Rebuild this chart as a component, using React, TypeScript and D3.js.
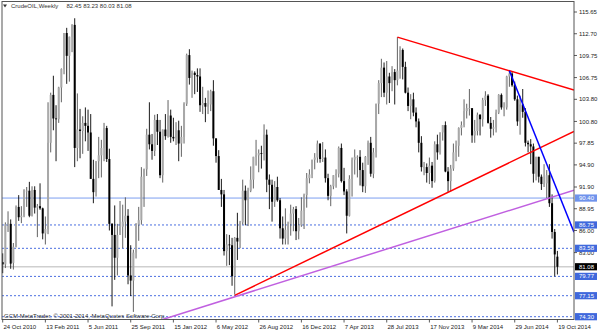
import React from "react";
import * as d3 from "d3";

type Bar = [number, number, number, number]; // open, high, low, close

// Weekly bars (week starting Sunday), CrudeOIL, from 24 Oct 2010
const ohlc2010: Bar[] = [
  [81.7, 82.9, 80.2, 81.4], [81.4, 87.1, 80.9, 86.85], [86.8, 88.6, 85.8, 87.0], [86.9, 87.5, 80.8, 81.5],
  [81.6, 84.3, 80.7, 83.8], [83.8, 89.4, 83.7, 89.2], [89.2, 90.8, 87.3, 87.8], [87.8, 89.3, 87.0, 88.0],
  [88.0, 91.6, 87.8, 91.5], [91.4, 91.9, 89.2, 91.4],
];
const ohlc2011: Bar[] = [
  [91.4, 92.6, 87.8, 88.0], [88.0, 92.0, 87.9, 91.5], [91.5, 92.0, 88.3, 89.1], [89.1, 89.6, 85.1, 89.3],
  [89.3, 92.4, 88.8, 89.0], [89.0, 89.1, 84.8, 85.6], [85.6, 87.9, 84.1, 86.2], [86.2, 103.4, 85.5, 97.9],
  [97.9, 104.7, 96.6, 104.4], [104.4, 107.0, 99.6, 101.2], [101.2, 103.0, 95.4, 101.1], [101.1, 105.5, 100.6, 105.4],
  [105.4, 108.0, 103.4, 107.9], [107.9, 112.8, 107.2, 112.8], [112.8, 113.5, 105.9, 109.7], [109.7, 112.3, 106.2, 112.3],
  [112.3, 114.0, 110.2, 113.9], [113.9, 114.8, 94.6, 97.2], [97.2, 104.6, 95.4, 99.7], [99.7, 102.5, 95.8, 99.5],
  [99.5, 101.5, 96.4, 100.6], [100.6, 102.7, 98.1, 100.2], [100.2, 102.4, 96.8, 99.3], [99.3, 101.8, 93.0, 93.0],
  [93.0, 95.6, 89.7, 91.2], [91.2, 95.4, 90.6, 95.4], [95.4, 98.7, 93.1, 96.2], [96.2, 98.3, 93.2, 97.2],
  [97.2, 100.6, 95.4, 99.9], [99.9, 100.2, 95.3, 95.7], [95.7, 97.1, 86.0, 86.9], [86.9, 87.0, 75.7, 85.4],
  [85.4, 89.4, 79.3, 82.3], [82.3, 86.9, 79.9, 85.4], [85.4, 90.0, 85.4, 86.5], [86.5, 89.5, 83.6, 87.2],
  [87.2, 90.5, 85.0, 88.0], [88.0, 88.9, 78.7, 79.9], [79.9, 84.0, 77.1, 79.2], [79.2, 83.4, 74.95, 83.0],
  [83.0, 87.0, 82.2, 86.8], [86.8, 89.2, 84.6, 87.4], [87.4, 94.6, 86.8, 93.3], [93.3, 94.4, 89.2, 94.3],
  [94.3, 99.8, 93.4, 99.0], [99.0, 103.4, 97.0, 97.7], [97.7, 99.1, 95.6, 96.8], [96.8, 101.7, 96.1, 101.0],
  [101.0, 101.8, 97.6, 99.4], [99.4, 101.0, 93.1, 93.5], [93.5, 99.7, 92.5, 99.7], [99.7, 101.8, 98.3, 98.8],
];
const ohlc2012: Bar[] = [
  [98.8, 103.7, 98.6, 101.6], [101.6, 102.4, 97.9, 98.7], [98.7, 101.3, 98.1, 98.5], [98.5, 100.7, 97.6, 99.6],
  [99.6, 100.9, 95.4, 97.8], [97.8, 100.2, 96.0, 98.7], [98.7, 103.4, 97.8, 103.2], [103.2, 110.0, 102.9, 109.8],
  [109.8, 110.6, 105.8, 106.7], [106.7, 107.7, 104.0, 107.4], [107.4, 107.6, 104.5, 107.1], [107.1, 108.0, 104.8, 106.9],
  [106.9, 108.0, 102.1, 103.0], [103.0, 105.5, 101.8, 103.3], [103.3, 104.0, 100.7, 102.8], [102.8, 105.0, 101.8, 103.1],
  [103.1, 105.1, 102.2, 104.9], [104.9, 106.4, 97.5, 98.5], [98.5, 98.5, 95.2, 96.1], [96.1, 96.9, 91.5, 91.5],
  [91.5, 93.0, 89.2, 90.9], [90.9, 91.5, 82.6, 83.2], [83.2, 85.5, 81.2, 84.1], [84.1, 85.4, 81.3, 84.0],
  [84.0, 85.0, 78.5, 79.8], [79.8, 85.1, 77.3, 85.0], [85.0, 88.4, 82.0, 84.5], [84.5, 87.3, 83.6, 87.1],
  [87.1, 92.9, 86.8, 91.4], [91.4, 92.1, 86.7, 90.1], [90.1, 91.8, 86.6, 91.4], [91.4, 94.7, 91.2, 92.9],
  [92.9, 96.0, 91.7, 96.0], [96.0, 98.3, 94.8, 96.2], [96.2, 97.0, 93.9, 96.5], [96.5, 97.5, 94.4, 96.4],
  [96.4, 100.4, 95.5, 99.0], [99.0, 99.7, 91.2, 92.9], [92.9, 93.6, 88.9, 92.2], [92.2, 92.9, 87.2, 89.9],
  [89.9, 92.7, 89.2, 91.9], [91.9, 93.3, 89.9, 90.1], [90.1, 90.4, 84.9, 86.3], [86.3, 87.9, 84.1, 84.9],
  [84.9, 89.0, 84.1, 86.1], [86.1, 87.2, 84.1, 86.9], [86.9, 89.5, 85.3, 88.3], [88.3, 89.2, 85.9, 88.9],
  [88.9, 89.3, 84.7, 85.9], [85.9, 87.7, 84.8, 86.7], [86.7, 90.5, 86.5, 88.7], [88.7, 91.0, 86.2, 90.8],
  [90.8, 93.8, 89.1, 93.1],
];
const ohlc2013: Bar[] = [
  [93.1, 94.3, 92.4, 93.6], [93.6, 95.6, 93.1, 95.6], [95.6, 96.5, 94.3, 95.9], [95.9, 98.2, 95.2, 97.8],
  [97.8, 97.8, 95.2, 95.7], [95.7, 98.0, 95.3, 95.9], [95.9, 97.0, 92.5, 93.1], [93.1, 93.7, 90.1, 90.7],
  [90.7, 92.2, 89.3, 92.0], [92.0, 93.5, 91.6, 93.5], [93.5, 94.3, 91.8, 93.7], [93.7, 97.4, 93.2, 97.2],
  [97.2, 97.8, 92.5, 92.7], [92.7, 94.5, 90.8, 91.3], [91.3, 91.6, 85.6, 88.0], [88.0, 93.5, 87.9, 93.0],
  [93.0, 95.9, 90.6, 95.6], [95.6, 97.0, 93.6, 96.0], [96.0, 96.2, 93.2, 96.0], [96.0, 96.9, 92.1, 94.2],
  [94.2, 95.2, 91.2, 92.0], [92.0, 96.1, 91.1, 96.0], [96.0, 98.2, 94.9, 97.9], [97.9, 98.7, 93.3, 93.7],
  [93.7, 97.2, 93.1, 96.6], [96.6, 103.2, 95.9, 103.2], [103.2, 106.4, 101.8, 106.0], [106.0, 109.3, 104.1, 108.1],
  [108.1, 108.8, 104.1, 104.7], [104.7, 109.0, 103.1, 106.9], [106.9, 107.4, 103.3, 106.0], [106.0, 108.3, 104.9, 107.5],
  [107.5, 107.9, 103.1, 106.4], [106.4, 112.24, 105.7, 107.7], [107.7, 111.0, 106.6, 110.5], [110.5, 110.7, 106.5, 108.2],
  [108.2, 108.9, 104.6, 104.7], [104.7, 105.4, 102.2, 102.9], [102.9, 104.5, 101.1, 103.8], [103.8, 104.7, 101.5, 102.0],
  [102.0, 102.7, 100.0, 100.8], [100.8, 101.2, 96.6, 97.9], [97.9, 98.8, 94.0, 94.6], [94.6, 95.3, 93.5, 94.6],
  [94.6, 95.1, 92.5, 93.8], [93.8, 95.9, 92.3, 94.8], [94.8, 95.3, 91.8, 92.7], [92.7, 98.1, 92.5, 97.7],
  [97.7, 99.0, 95.6, 96.6], [96.6, 99.3, 96.3, 99.3], [99.3, 100.3, 98.2, 100.3], [100.3, 100.8, 93.9, 94.0],
];
const ohlc2014: Bar[] = [
  [94.0, 94.6, 91.24, 92.7], [92.7, 94.9, 91.3, 94.4], [94.4, 97.8, 94.1, 96.6], [96.6, 98.2, 95.4, 97.5],
  [97.5, 100.0, 96.0, 99.9], [99.9, 100.8, 98.9, 100.3], [100.3, 103.8, 100.0, 102.2], [102.2, 103.2, 101.2, 102.6],
  [102.6, 105.2, 101.6, 102.6], [102.6, 102.6, 97.9, 98.9], [98.9, 101.0, 97.9, 99.5], [99.5, 102.0, 98.9, 101.7],
  [101.7, 101.8, 98.9, 101.1], [101.1, 104.0, 100.1, 103.7], [103.7, 104.9, 102.9, 104.3], [104.3, 104.5, 100.5, 100.6],
  [100.6, 101.4, 98.6, 99.8], [99.8, 101.0, 98.9, 100.0], [100.0, 102.4, 99.3, 102.0], [102.0, 104.5, 101.8, 104.4],
  [104.4, 104.6, 102.4, 102.7], [102.7, 103.4, 101.5, 102.7], [102.7, 107.0, 102.4, 106.9], [106.9, 107.7, 105.5, 107.3],
  [107.3, 107.5, 105.5, 105.7], [105.7, 106.2, 103.6, 103.8], [103.8, 104.3, 100.2, 100.8], [100.8, 104.3, 99.0, 103.1],
  [103.1, 105.2, 101.3, 102.1], [102.1, 102.6, 97.4, 97.9], [97.9, 98.2, 96.6, 97.7], [97.7, 98.4, 95.0, 97.4],
  [97.4, 97.8, 92.5, 93.7], [93.7, 96.0, 92.8, 96.0], [96.0, 96.0, 92.5, 93.3], [93.3, 93.6, 91.5, 92.3],
  [92.3, 95.0, 91.9, 92.4], [92.4, 94.2, 90.4, 93.5], [93.5, 95.0, 89.2, 89.7], [89.7, 90.9, 84.9, 85.8],
  [85.8, 86.2, 79.77, 82.75], [82.45, 83.23, 80.03, 81.08],
];

const dateTickBars = [0, 16, 32, 48, 64, 80, 96, 112, 128, 144, 160, 176, 192, 208];
const dateTickLabels = [
  "24 Oct 2010", "13 Feb 2011", "5 Jun 2011", "25 Sep 2011", "15 Jan 2012", "6 May 2012", "26 Aug 2012",
  "16 Dec 2012", "7 Apr 2013", "28 Jul 2013", "17 Nov 2013", "9 Mar 2014", "29 Jun 2014", "19 Oct 2014",
];
const priceTickLabels = ["115.65", "112.70", "109.75", "106.75", "103.80", "100.80", "97.85", "94.90", "91.90", "88.95", "86.00", "83.00"];

const supportLevel = 90.4;
const dashedLevels = [86.75, 83.58, 79.77, 77.15, 74.3];
const bidPrice = 81.08;

// trend lines: [bar index, price] anchor pairs
const redDownLine: [number, number][] = [[148, 112.24], [190, 107.68]];
const redUpLine: [number, number][] = [[87, 77.2], [200, 96.96]];
const purpleLine: [number, number][] = [[87, 77.0], [200, 89.85]];
const blueLine: [number, number][] = [[190, 107.68], [208, 91.4]];

const titleText = "CrudeOIL,Weekly";
const titleValues = "82.45 83.23 80.03 81.08";
const watermark = "GCM MetaTrader, \u00a9 2001-2014, MetaQuotes Software Corp.";

const W = 600, H = 333;
const PL = 2, PR = 574, PT = 1.5, PB = 319.5;
const FONT = "'Liberation Sans', Arial, sans-serif";

export default function App() {
  const bars: Bar[] = [...ohlc2010, ...ohlc2011, ...ohlc2012, ...ohlc2013, ...ohlc2014];
  const x = d3.scaleLinear().domain([0, 208]).range([2.7, 557.4]);
  const y = d3.scaleLinear().domain([74.3, 115.65]).range([316.7, 12]);

  const ray = (pts: [number, number][], both: boolean) => {
    const x1 = x(pts[0][0]), y1 = y(pts[0][1]);
    const x2 = x(pts[1][0]), y2 = y(pts[1][1]);
    const k = (y2 - y1) / (x2 - x1);
    const xs = both ? PL : x1;
    const xe = PR;
    return { x1: xs, y1: y1 + (xs - x1) * k, x2: xe, y2: y1 + (xe - x1) * k };
  };

  const lines = [
    { l: ray(redDownLine, false), c: "#ff0000" },
    { l: ray(redUpLine, false), c: "#ff0000" },
    { l: ray(purpleLine, true), c: "#c060e0" },
    { l: ray(blueLine, false), c: "#0000ff" },
  ];

  const fs = 6;

  return (
    <svg width={W} height={H} style={{ position: "absolute", left: 0, top: 0, background: "#fff" }} fontFamily={FONT}>
      <defs>
        <clipPath id="plot">
          <rect x={PL} y={PT} width={PR - PL} height={PB - PT} />
        </clipPath>
      </defs>
      <rect x={0} y={0} width={W} height={H} fill="#fff" />

      <g clipPath="url(#plot)">
        <line x1={PL} x2={PR} y1={y(bidPrice)} y2={y(bidPrice)} stroke="#cfcfcf" strokeWidth={1.3} />
        {dashedLevels.map((v, i) => (
          <line key={i} x1={PL} x2={PR} y1={y(v)} y2={y(v)} stroke="#4a6ee0" strokeWidth={1} strokeDasharray="2,2" />
        ))}
        <line x1={PL} x2={PR} y1={y(supportLevel)} y2={y(supportLevel)} stroke="#7c9ef0" strokeWidth={1} />

        {bars.map((b, i) => {
          const [o, h, l, c] = b;
          const bull = c >= o;
          const cx = x(i);
          const top = y(Math.max(o, c));
          const bot = y(Math.min(o, c));
          return (
            <g key={i}>
              <line x1={cx} x2={cx} y1={y(h)} y2={y(l)} stroke={bull ? "#505050" : "#000"} strokeWidth={0.9} />
              <rect x={cx - 1} y={top} width={2} height={Math.max(0.8, bot - top)} fill={bull ? "#a8a8a8" : "#000"} />
            </g>
          );
        })}

        {lines.map((t, i) => (
          <line key={i} x1={t.l.x1} y1={t.l.y1} x2={t.l.x2} y2={t.l.y2} stroke={t.c} strokeWidth={1.5} />
        ))}
      </g>

      <rect x={PL} y={PT} width={PR - PL} height={PB - PT} fill="none" stroke="#555" strokeWidth={1} />

      <path d="M3,4.5 L7,4.5 L5,7.5 Z" fill="#333" />
      <text x={11} y={8.2} fontSize={fs} fill="#333">{titleText}</text>
      <text x={66.5} y={8.2} fontSize={fs} fill="#333">{titleValues}</text>

      <text x={4} y={317.8} fontSize={fs} fill="#333">{watermark}</text>

      {priceTickLabels.map((t, i) => {
        const yy = y(+t);
        return (
          <g key={i}>
            <line x1={PR} x2={PR + 3} y1={yy} y2={yy} stroke="#333" strokeWidth={0.8} />
            <text x={579} y={yy + 2.1} fontSize={fs} fill="#222">{t}</text>
          </g>
        );
      })}

      {[supportLevel, ...dashedLevels].map((v, i) => (
        <g key={i}>
          <rect x={575} y={y(v) - 3.6} width={22} height={7.2} fill={i === 0 ? "#6f93ec" : "#3f68dc"} />
          <text x={579} y={y(v) + 2.1} fontSize={fs} fill="#fff">{v.toFixed(2)}</text>
        </g>
      ))}
      <rect x={575} y={y(bidPrice) - 3.6} width={22} height={7.2} fill="#000" />
      <text x={579} y={y(bidPrice) + 2.1} fontSize={fs} fill="#fff">{bidPrice.toFixed(2)}</text>

      {dateTickBars.map((b, i) => (
        <g key={i}>
          <line x1={x(b)} x2={x(b)} y1={PB} y2={PB + 3} stroke="#333" strokeWidth={0.8} />
          <text x={x(b) + 0.8} y={328.6} fontSize={fs} fill="#222">{dateTickLabels[i]}</text>
        </g>
      ))}
    </svg>
  );
}
